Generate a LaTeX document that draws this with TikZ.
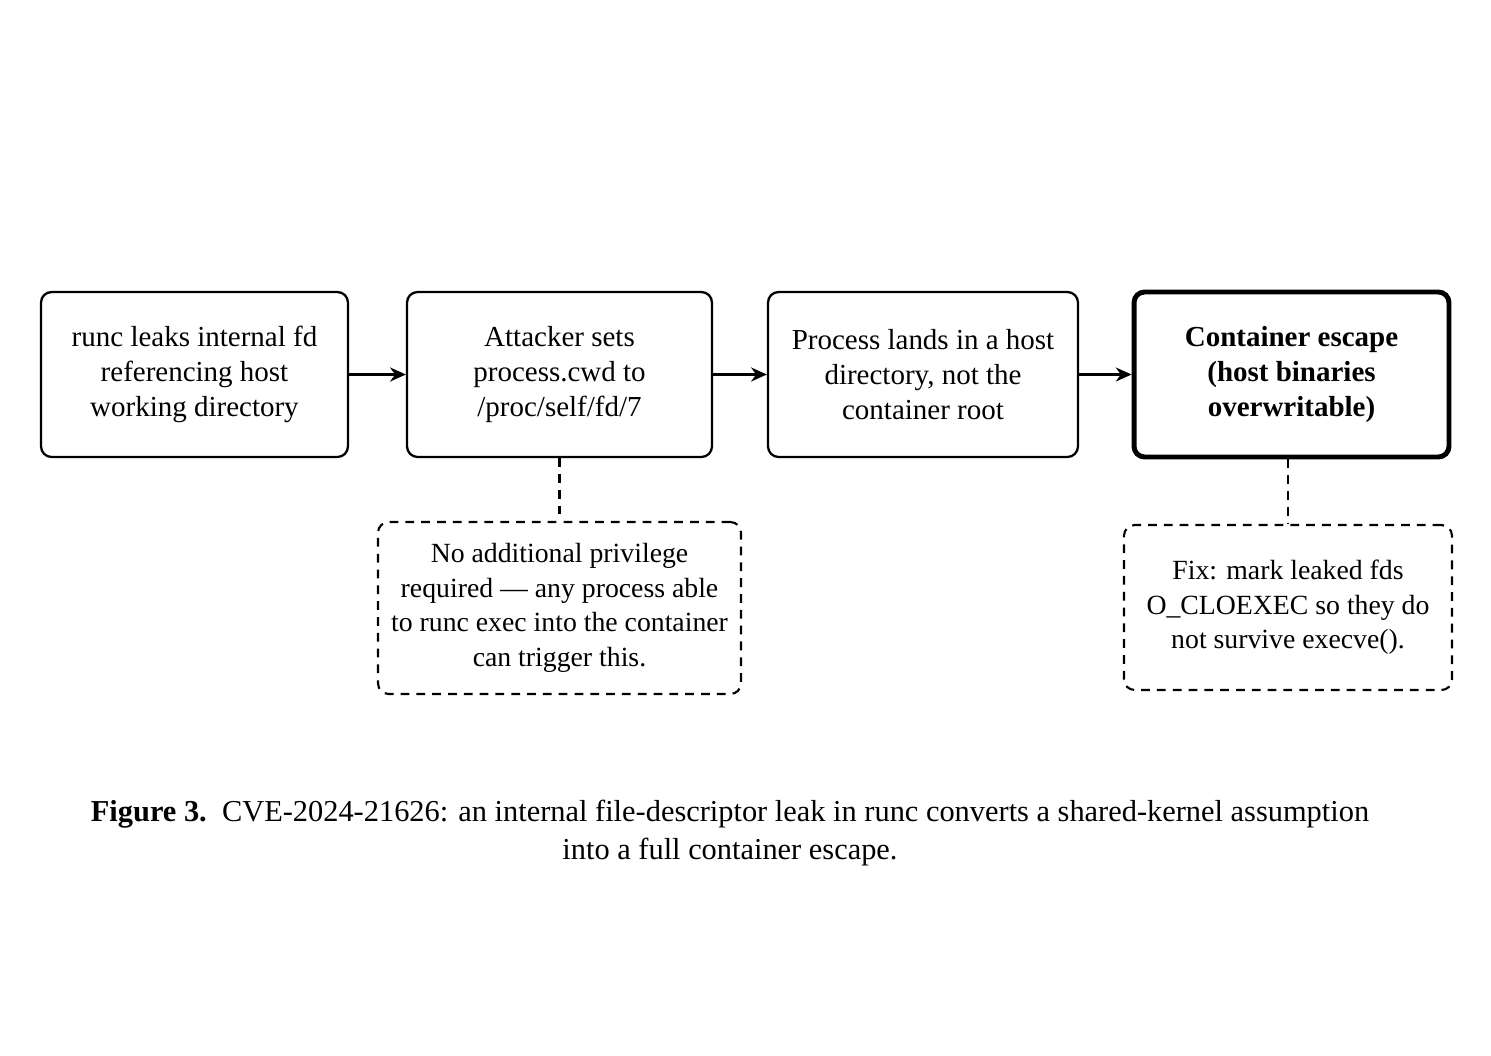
\documentclass[tikz,border=0pt]{standalone}
\usepackage{fontspec}
\setmainfont{Liberation Serif}
\usetikzlibrary{arrows.meta, positioning}

\tikzset{
  stepbox/.style={draw, rounded corners=6pt, line width=1.3pt, align=center,
    inner sep=0pt, font=\fontsize{16.5}{19.8}\selectfont},
  notebox/.style={draw, dash pattern=on 5pt off 4pt, rounded corners=6pt,
    line width=1.2pt, align=center, inner sep=0pt, font=\fontsize{15.8}{19.6}\selectfont},
  flow/.style={-{Stealth[length=9pt, width=8pt]}, line width=1.3pt},
  link/.style={line width=1.4pt, dash pattern=on 5pt off 4pt},
}

\begin{document}
\begin{tikzpicture}[x=0.02cm, y=-0.02cm]
    \useasboundingbox (0,0) rectangle (1491,1055);
    % Main chain of stages
    \node[stepbox, minimum width=6.14cm, minimum height=3.3cm] (leakbox) at (194.5,374.5) {runc leaks internal fd\\referencing host\\working directory};
    \node[stepbox, minimum width=6.1cm, minimum height=3.3cm] (cwd) at (559.5,374.5) {Attacker sets\\process.cwd to\\/proc/self/fd/7};
    \node[stepbox, minimum width=6.2cm, minimum height=3.3cm] (lands) at (923,374.5) {Process lands in a host\\directory, not the\\container root};
    \node[stepbox, line width=2.8pt, minimum width=6.3cm, minimum height=3.3cm] (escape) at (1291.5,374.5) {\textbf{Container escape}\\\textbf{(host binaries}\\\textbf{overwritable)}};

    % Notes under the stages
    \node[notebox, minimum width=7.26cm, minimum height=3.44cm] (priv) at (559.5,608) {No additional privilege\\required — any process able\\to runc exec into the container\\can trigger this.};
    \node[notebox, minimum width=6.56cm, minimum height=3.3cm] (fix) at (1288,607.5) {Fix: mark leaked fds\\O\_CLOEXEC so they do\\not survive execve().};

    % Arrows
    \draw[flow] (leakbox) -- (cwd);
    \draw[flow] (cwd) -- (lands);
    \draw[flow] (lands) -- (escape);
    \draw[link] (cwd) -- (priv);
    \draw[link] (escape.south -| fix.north) -- (fix);

    % Caption
    \node[align=center, font=\fontsize{17.3}{21.5}\selectfont] (caption) at (730,833)
      {\textbf{Figure 3.}\enspace CVE-2024-21626: an internal file-descriptor leak in runc converts a shared-kernel assumption\\into a full container escape.};
\end{tikzpicture}
\end{document}
